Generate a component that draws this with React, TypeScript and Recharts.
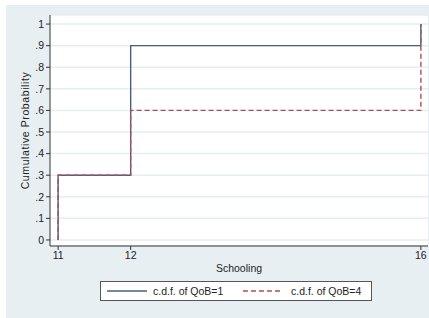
import { CartesianGrid, Line, LineChart, XAxis, YAxis } from "recharts";

const schooling = [11, 11, 12, 16];
const cdfQoB1 = [0, 0.3, 0.9, 1];
const cdfQoB4 = [0, 0.3, 0.6, 1];
const xTicks = [11, 12, 16];
const yTicks = [0, 0.1, 0.2, 0.3, 0.4, 0.5, 0.6, 0.7, 0.8, 0.9, 1];

const data = schooling.map((s, i) => ({ s, q1: cdfQoB1[i], q4: cdfQoB4[i] }));

const navy = "#44607e";
const maroon = "#a8505a";
const font = "'Liberation Sans', Arial, sans-serif";

const fmtY = (v: number) =>
  v === 0 ? "0" : v === 1 ? "1" : "." + Math.round(v * 10);

export default function App() {
  return (
    <div
      style={{
        position: "absolute",
        left: 6,
        top: 5,
        width: 423,
        height: 313,
        background: "#e8eff2",
        fontFamily: font,
      }}
    >
      <LineChart
        width={423}
        height={313}
        data={data}
        margin={{ top: 10, right: 1, left: 0, bottom: 46 }}
      >
        <CartesianGrid
          vertical={false}
          fill="#ffffff"
          stroke="#e6eef1"
          strokeWidth={1.5}
        />
        <XAxis
          dataKey="s"
          type="number"
          domain={[10.888, 16.098]}
          ticks={xTicks}
          height={26}
          stroke="#333"
          tick={{ fill: "#222", fontSize: 10.5, fontFamily: font }}
          tickSize={4}
          label={{
            value: "Schooling",
            position: "insideBottom",
            offset: 0,
            fill: "#222",
            fontSize: 10.5,
            fontFamily: font,
          }}
        />
        <YAxis
          type="number"
          domain={[-0.028, 1.042]}
          ticks={yTicks}
          tickFormatter={fmtY}
          width={44}
          stroke="#333"
          tick={{ fill: "#222", fontSize: 10.5, fontFamily: font }}
          tickSize={4}
          interval={0}
          label={{
            value: "Cumulative Probability",
            angle: -90,
            position: "insideLeft",
            offset: 19,
            style: { textAnchor: "middle", letterSpacing: 0.6 },
            fill: "#222",
            fontSize: 10.5,
            fontFamily: font,
          }}
        />
        <Line
          dataKey="q1"
          type="stepAfter"
          stroke={navy}
          strokeWidth={1.4}
          dot={false}
          isAnimationActive={false}
        />
        <Line
          dataKey="q4"
          type="stepAfter"
          stroke={maroon}
          strokeWidth={1.4}
          strokeDasharray="5 3"
          dot={false}
          isAnimationActive={false}
        />
      </LineChart>
      <div
        style={{
          position: "absolute",
          left: 94,
          top: 276,
          width: 270,
          height: 18,
          background: "#fff",
          border: "1px solid #555",
          display: "flex",
          alignItems: "center",
          fontSize: 10.5,
          color: "#222",
        }}
      >
        <svg width={40} height={4} style={{ marginLeft: 6 }}>
          <line x1={0} y1={2} x2={40} y2={2} stroke={navy} strokeWidth={1.4} />
        </svg>
        <span style={{ marginLeft: 6, width: 84 }}>c.d.f. of QoB=1</span>
        <svg width={40} height={4} style={{ marginLeft: 6 }}>
          <line
            x1={0}
            y1={2}
            x2={40}
            y2={2}
            stroke={maroon}
            strokeWidth={1.4}
            strokeDasharray="5 3"
          />
        </svg>
        <span style={{ marginLeft: 8 }}>c.d.f. of QoB=4</span>
      </div>
    </div>
  );
}
